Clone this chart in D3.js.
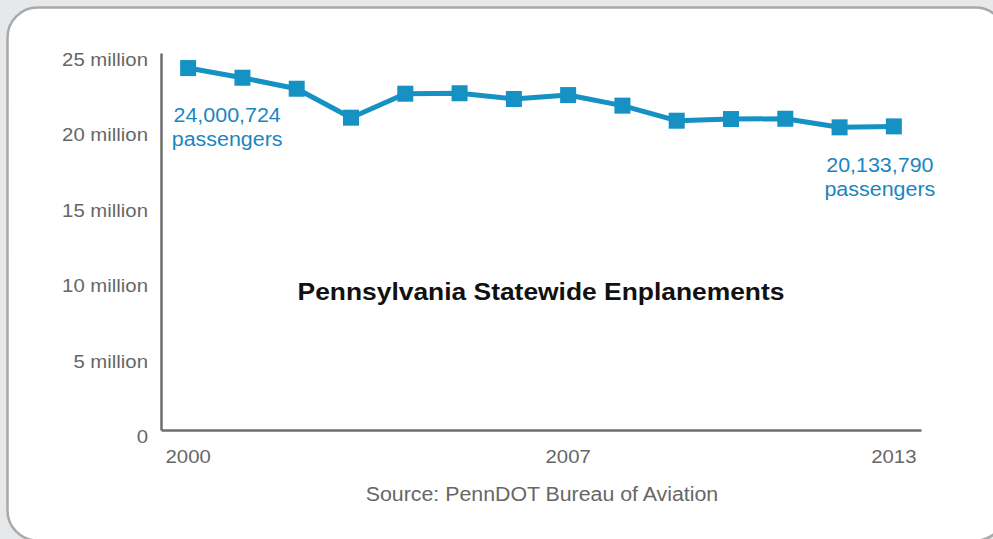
<!DOCTYPE html>
<html>
<head>
<meta charset="utf-8">
<script src="https://cdn.jsdelivr.net/npm/d3@7"></script>
<style>
  html, body { margin: 0; padding: 0; background: #e7e8e9; }
  svg { display: block; }
  text { font-family: "Liberation Sans", Arial, Helvetica, sans-serif; }
</style>
</head>
<body>
<svg id="chart" width="993" height="539"></svg>
<script>
// ---- data ----
const years = [2000, 2001, 2002, 2003, 2004, 2005, 2006, 2007, 2008, 2009, 2010, 2011, 2012, 2013];
const enplanements = [24000724, 23360000, 22630000, 20710000, 22300000, 22330000, 21950000,
                      22210000, 21510000, 20510000, 20620000, 20640000, 20070000, 20133790];
const yTickValues = [0, 5000000, 10000000, 15000000, 20000000, 25000000];
const yTickLabels = ["0", "5 million", "10 million", "15 million", "20 million", "25 million"];
const xTickValues = [2000, 2007, 2013];
const firstNote = ["24,000,724", "passengers"];
const lastNote = ["20,133,790", "passengers"];
const title = "Pennsylvania Statewide Enplanements";
const source = "Source: PennDOT Bureau of Aviation";

// ---- setup ----
const SX = 1.1; // slight horizontal text stretch seen in the reference
const svg = d3.select("#chart");
const lineColor = "#1591c4";
const noteColor = "#1a86bf";
const axisColor = "#6d6e70";
const textColor = "#666768";

// rounded panel
svg.append("rect")
  .attr("x", 7.5).attr("y", 7.5)
  .attr("width", 998).attr("height", 533)
  .attr("rx", 30).attr("ry", 30)
  .attr("fill", "#ffffff")
  .attr("stroke", "#a7a9ab")
  .attr("stroke-width", 2.5);

const x = d3.scaleBand().domain(years).range([161, 921]);
const cx = d => x(d) + x.bandwidth() / 2;
const y = d3.scaleLinear().domain([0, 25000000]).range([430, 53]);

// y axis
const yAxis = svg.append("g")
  .attr("transform", "translate(161,0)")
  .call(d3.axisLeft(y).tickValues(yTickValues)
        .tickFormat((d, i) => yTickLabels[i]).tickSize(0).tickSizeOuter(0).tickPadding(13));
yAxis.select(".domain").attr("stroke", axisColor).attr("stroke-width", 2.5);
yAxis.selectAll("text")
  .attr("x", 0).attr("dy", "0.35em")
  .attr("transform", "translate(-13,6) scale(" + SX + ",1)")
  .attr("fill", textColor).attr("font-size", 18.5)
  .style("font-family", '"Liberation Sans", Arial, sans-serif');

// x axis
const xAxis = svg.append("g")
  .attr("transform", "translate(0,430)")
  .call(d3.axisBottom(x).tickValues(xTickValues).tickSize(0).tickSizeOuter(0));
xAxis.select(".domain").attr("stroke", axisColor).attr("stroke-width", 2.5);
xAxis.selectAll("text")
  .attr("y", 0).attr("dy", 0)
  .attr("transform", "translate(0,33) scale(" + SX + ",1)")
  .attr("fill", textColor).attr("font-size", 18.5)
  .style("font-family", '"Liberation Sans", Arial, sans-serif');

// line
const pts = years.map((yr, i) => ({ yr, v: enplanements[i] }));
svg.append("path")
  .datum(pts)
  .attr("fill", "none")
  .attr("stroke", lineColor)
  .attr("stroke-width", 5)
  .attr("stroke-linejoin", "round")
  .attr("d", d3.line().x(d => cx(d.yr)).y(d => y(d.v)));

// markers
const M = 16;
svg.append("g").selectAll("rect")
  .data(pts).join("rect")
  .attr("x", d => cx(d.yr) - M / 2)
  .attr("y", d => y(d.v) - M / 2)
  .attr("width", M).attr("height", M)
  .attr("fill", lineColor);

// helper for stretched text
function stretchedText(parent, tx, ty, str, opts) {
  return parent.append("text")
    .attr("transform", "translate(" + tx + "," + ty + ") scale(" + SX + ",1)")
    .attr("text-anchor", opts.anchor || "middle")
    .attr("font-size", opts.size)
    .attr("font-weight", opts.weight || "normal")
    .attr("fill", opts.fill)
    .text(str);
}

// annotations
const p0 = pts[0], pN = pts[pts.length - 1];
firstNote.forEach((s, i) =>
  stretchedText(svg, cx(p0.yr) + 39, y(p0.v) + 54 + i * 24, s, { size: 19.5, fill: noteColor }));
lastNote.forEach((s, i) =>
  stretchedText(svg, cx(pN.yr) - 14, y(pN.v) + 46 + i * 24, s, { size: 19.5, fill: noteColor }));

// title & source
stretchedText(svg, 541, 300, title, { size: 24, weight: "bold", fill: "#111111" });
stretchedText(svg, 542, 501, source, { size: 19.4, fill: textColor });
</script>
</body>
</html>
